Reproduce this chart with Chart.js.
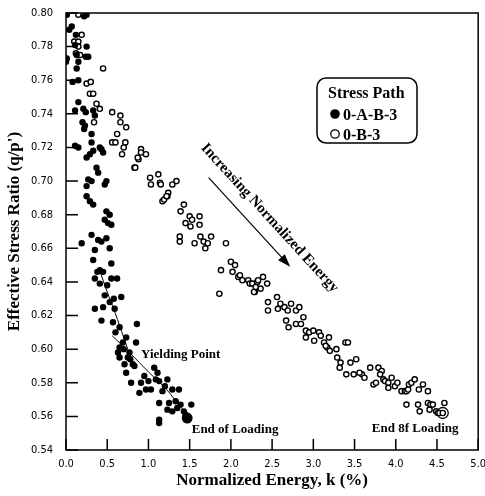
<!DOCTYPE html>
<html lang="en">
<head>
  <meta charset="UTF-8">
  <title>Effective Stress Ratio vs Normalized Energy</title>
  <script src="https://cdn.jsdelivr.net/npm/chart.js"></script>
  <style>
    body { margin: 0; background: #fff; }
    canvas { display: block; }
  </style>
</head>
<body>
  <canvas id="energyChart" width="485" height="496"></canvas>

  <script>
    // stress path 0-A-B-3 (filled dots)
    const kFilled = [
      0.01, 0.25, 0.22, 0.07, 0.04, 0.12, 0.11, 0.25, 0.01, 0.00, 0.13, 0.15, 0.27, 0.24, 0.13, 0.08, 0.15, 0.15, 0.11, 0.21,
      0.24, 0.33, 0.35, 0.20, 0.23, 0.22, 0.31, 0.11, 0.15, 0.31, 0.33, 0.41, 0.45, 0.43, 0.25, 0.29, 0.37, 0.39, 0.27, 0.31,
      0.25, 0.49, 0.47, 0.25, 0.29, 0.33, 0.49, 0.53, 0.47, 0.51, 0.55, 0.19, 0.31, 0.39, 0.43, 0.49, 0.53, 0.35, 0.33, 0.55,
      0.41, 0.45, 0.38, 0.35, 0.41, 0.55, 0.62, 0.47, 0.53, 0.67, 0.45, 0.59, 0.35, 0.43, 0.57, 0.86, 0.65, 0.73, 0.69, 0.85,
      0.65, 0.77, 0.75, 0.63, 0.65, 0.71, 0.81, 0.73, 1.07, 1.11, 0.79, 0.91, 0.97, 1.03, 1.09, 1.13, 1.23, 1.29, 1.37, 0.89,
      1.17, 1.13, 1.25, 1.33, 1.39, 1.43, 1.52, 1.46, 1.45, 1.23, 1.29, 1.13, 1.13, 0.60, 0.70, 0.78, 0.83, 0.95, 1.00, 1.20,
      1.35, 0.50, 0.58
    ];
    const ratioFilled = [
      0.799, 0.799, 0.798, 0.792, 0.790, 0.787, 0.781, 0.780, 0.773, 0.771, 0.775, 0.771, 0.774, 0.774, 0.767, 0.759, 0.760, 0.747, 0.742, 0.743,
      0.741, 0.742, 0.739, 0.735, 0.733, 0.731, 0.728, 0.721, 0.720, 0.723, 0.718, 0.720, 0.717, 0.719, 0.714, 0.716, 0.708, 0.705, 0.701, 0.700,
      0.697, 0.700, 0.698, 0.691, 0.688, 0.686, 0.682, 0.680, 0.677, 0.675, 0.674, 0.663, 0.668, 0.665, 0.664, 0.666, 0.660, 0.659, 0.653, 0.651,
      0.647, 0.646, 0.646, 0.642, 0.639, 0.642, 0.642, 0.632, 0.628, 0.631, 0.625, 0.624, 0.624, 0.617, 0.616, 0.615, 0.613, 0.607, 0.604, 0.604,
      0.601, 0.598, 0.595, 0.598, 0.595, 0.591, 0.591, 0.586, 0.589, 0.586, 0.580, 0.580, 0.576, 0.576, 0.582, 0.581, 0.582, 0.576, 0.576, 0.574,
      0.575, 0.568, 0.568, 0.569, 0.567, 0.563, 0.567, 0.560, 0.561, 0.564, 0.563, 0.558, 0.556, 0.610, 0.600, 0.594, 0.590, 0.584, 0.581, 0.578,
      0.565, 0.638, 0.630
    ];

    // stress path 0-B-3 (open circles)
    const kOpen = [
      0.15, 0.19, 0.10, 0.15, 0.15, 0.12, 0.17, 0.45, 0.25, 0.30, 0.29, 0.33, 0.37, 0.41, 0.34, 0.56, 0.66, 0.66, 0.73, 0.62,
      0.56, 0.60, 0.72, 0.70, 0.68, 0.91, 0.91, 0.97, 0.88, 0.83, 0.84, 0.87, 1.02, 1.03, 1.12, 1.14, 1.15, 1.29, 1.34, 1.24,
      1.23, 1.17, 1.43, 1.39, 1.50, 1.53, 1.62, 1.45, 1.51, 1.62, 1.19, 1.22, 1.38, 1.38, 1.56, 1.63, 1.67, 1.72, 1.76, 1.69,
      1.94, 1.88, 2.00, 2.05, 2.02, 1.86, 2.09, 2.11, 2.14, 2.21, 2.23, 2.26, 2.32, 2.39, 2.44, 2.29, 2.36, 2.28, 2.30, 2.33,
      2.56, 2.45, 2.45, 2.57, 2.60, 2.65, 2.69, 2.73, 2.79, 2.83, 2.67, 2.70, 2.79, 2.85, 2.88, 2.91, 2.95, 2.91, 3.00, 3.01,
      3.07, 3.09, 3.13, 3.17, 3.15, 3.19, 3.20, 3.28, 3.29, 3.33, 3.32, 3.39, 3.42, 3.40, 3.45, 3.52, 3.49, 3.59, 3.56, 3.62,
      3.69, 3.73, 3.76, 3.79, 3.83, 3.81, 3.85, 3.87, 3.91, 3.95, 3.91, 3.99, 4.02, 4.07, 4.11, 4.13, 4.15, 4.16, 4.19, 4.23,
      4.28, 4.33, 4.39, 4.13, 4.27, 4.29, 4.39, 4.42, 4.45, 4.41, 4.49, 4.51, 4.53, 4.59, 4.57
    ];
    const ratioOpen = [
      0.799, 0.787, 0.783, 0.783, 0.780, 0.776, 0.775, 0.767, 0.758, 0.759, 0.752, 0.752, 0.746, 0.743, 0.735, 0.741, 0.739, 0.735, 0.732, 0.728,
      0.723, 0.723, 0.723, 0.720, 0.716, 0.719, 0.717, 0.716, 0.713, 0.708, 0.708, 0.714, 0.702, 0.698, 0.704, 0.699, 0.698, 0.698, 0.700, 0.693,
      0.691, 0.688, 0.686, 0.682, 0.679, 0.677, 0.679, 0.675, 0.673, 0.674, 0.689, 0.691, 0.667, 0.664, 0.663, 0.667, 0.664, 0.663, 0.667, 0.660,
      0.663, 0.647, 0.652, 0.650, 0.646, 0.633, 0.643, 0.644, 0.641, 0.641, 0.639, 0.639, 0.640, 0.643, 0.639, 0.634, 0.636, 0.634, 0.637, 0.641,
      0.631, 0.628, 0.623, 0.624, 0.627, 0.625, 0.623, 0.627, 0.623, 0.625, 0.617, 0.613, 0.615, 0.615, 0.619, 0.611, 0.610, 0.607, 0.611, 0.605,
      0.610, 0.608, 0.604, 0.601, 0.602, 0.607, 0.599, 0.600, 0.595, 0.592, 0.589, 0.604, 0.604, 0.585, 0.592, 0.594, 0.585, 0.585, 0.586, 0.583,
      0.589, 0.579, 0.580, 0.589, 0.587, 0.585, 0.582, 0.581, 0.580, 0.583, 0.577, 0.578, 0.580, 0.575, 0.575, 0.575, 0.576, 0.579, 0.580, 0.582,
      0.576, 0.579, 0.575, 0.567, 0.567, 0.563, 0.568, 0.567, 0.567, 0.564, 0.563, 0.562, 0.562, 0.568, 0.562
    ];

    // fitted curves through the 0-A-B-3 data (they cross at the yielding point)
    const kFitUpper = [0.40, 0.50, 0.60, 0.70, 0.82];
    const ratioFitUpper = [0.648, 0.634, 0.621, 0.607, 0.590];
    const kFitLower = [0.56, 0.77, 1.01, 1.22, 1.40, 1.49];
    const ratioFitLower = [0.608, 0.598, 0.586, 0.576, 0.565, 0.561];

    // end of loading points
    const kEnd = [1.47, 4.57];
    const ratioEnd = [0.559, 0.562];

    // arrow "Increasing Normalized Energy" (start, end) in data units
    const arrowK = [1.73, 2.72];
    const arrowRatio = [0.702, 0.649];

    const xTicks = { min: 0, max: 5, step: 0.5 };
    const yTicks = { min: 0.54, max: 0.80, step: 0.02 };

    const pts = (xs, ys) => xs.map((v, i) => ({ x: v, y: ys[i] }));

    const serif = "'Liberation Serif', 'Times New Roman', serif";
    const narrow = "'DejaVu Sans Condensed', 'Liberation Sans Narrow', 'Arial Narrow', 'Liberation Sans', sans-serif";

    const decor = {
      id: 'decor',
      afterDraw(chart) {
        const { ctx, chartArea: a, scales: { x, y } } = chart;
        ctx.save();
        ctx.strokeStyle = '#000';
        ctx.fillStyle = '#000';

        // frame + inward ticks
        ctx.lineWidth = 1.5;
        ctx.strokeRect(a.left, a.top, a.right - a.left, a.bottom - a.top);
        ctx.beginPath();
        x.ticks.forEach(t => {
          const px = x.getPixelForValue(t.value);
          ctx.moveTo(px, a.bottom); ctx.lineTo(px, a.bottom - 11);
        });
        y.ticks.forEach(t => {
          const py = y.getPixelForValue(t.value);
          ctx.moveTo(a.left, py); ctx.lineTo(a.left + 12, py);
        });
        ctx.stroke();

        // axis titles
        ctx.font = 'bold 17px ' + serif;
        ctx.textAlign = 'center';
        ctx.textBaseline = 'alphabetic';
        ctx.fillText('Normalized Energy, k (%)', (a.left + a.right) / 2, 485);
        ctx.save();
        ctx.translate(19, (a.top + a.bottom) / 2);
        ctx.rotate(-Math.PI / 2);
        ctx.fillText("Effective Stress Ratio (q/p')", 0, 0);
        ctx.restore();

        // arrow
        const x0 = x.getPixelForValue(arrowK[0]), y0 = y.getPixelForValue(arrowRatio[0]);
        const x1 = x.getPixelForValue(arrowK[1]), y1 = y.getPixelForValue(arrowRatio[1]);
        const ang = Math.atan2(y1 - y0, x1 - x0);
        ctx.lineWidth = 1.2;
        ctx.beginPath();
        ctx.moveTo(x0, y0);
        ctx.lineTo(x1 - 10 * Math.cos(ang), y1 - 10 * Math.sin(ang));
        ctx.stroke();
        ctx.beginPath();
        ctx.moveTo(x1, y1);
        ctx.lineTo(x1 - 13 * Math.cos(ang) + 4.5 * Math.sin(ang), y1 - 13 * Math.sin(ang) - 4.5 * Math.cos(ang));
        ctx.lineTo(x1 - 13 * Math.cos(ang) - 4.5 * Math.sin(ang), y1 - 13 * Math.sin(ang) + 4.5 * Math.cos(ang));
        ctx.closePath();
        ctx.fill();

        // rotated label along the arrow
        ctx.save();
        ctx.translate(x.getPixelForValue(2.47), y.getPixelForValue(0.678));
        ctx.rotate(ang);
        ctx.font = 'bold 15px ' + serif;
        ctx.textAlign = 'center';
        ctx.textBaseline = 'middle';
        ctx.fillText('Increasing Normalized Energy', 0, 0);
        ctx.restore();

        // point labels
        ctx.font = 'bold 13px ' + serif;
        ctx.textAlign = 'left';
        ctx.textBaseline = 'alphabetic';
        ctx.fillText('Yielding Point', x.getPixelForValue(0.91), y.getPixelForValue(0.5947));
        ctx.fillText('End of Loading', x.getPixelForValue(1.525), y.getPixelForValue(0.5500));
        ctx.fillText('End 8f Loading', x.getPixelForValue(3.71), y.getPixelForValue(0.5507));

        // legend box
        ctx.lineWidth = 1.5;
        ctx.beginPath();
        ctx.roundRect(317, 78, 100, 65, 9);
        ctx.stroke();
        ctx.font = 'bold 16px ' + serif;
        ctx.fillText('Stress Path', 328, 98);
        ctx.font = 'bold 16px ' + serif;
        const ds = chart.data.datasets;
        ctx.beginPath();
        ctx.arc(335, 114, 4.8, 0, Math.PI * 2);
        ctx.fill();
        ctx.fillText(ds[0].label, 343, 120);
        ctx.beginPath();
        ctx.lineWidth = 1.3;
        ctx.arc(335, 134, 4.2, 0, Math.PI * 2);
        ctx.stroke();
        ctx.fillText(ds[1].label, 343, 140);

        ctx.restore();
      }
    };

    new Chart(document.getElementById('energyChart'), {
      type: 'scatter',
      data: {
        datasets: [
          {
            label: '0-A-B-3',
            data: pts(kFilled, ratioFilled),
            backgroundColor: '#000',
            borderColor: '#000',
            pointRadius: 3.2,
            borderWidth: 0
          },
          {
            label: '0-B-3',
            data: pts(kOpen, ratioOpen),
            backgroundColor: '#fff',
            borderColor: '#000',
            pointRadius: 2.6,
            borderWidth: 1.4
          },
          {
            label: 'fit upper',
            data: pts(kFitUpper, ratioFitUpper),
            showLine: true,
            borderColor: '#000',
            borderWidth: 1,
            pointRadius: 0,
            tension: 0.3
          },
          {
            label: 'fit lower',
            data: pts(kFitLower, ratioFitLower),
            showLine: true,
            borderColor: '#000',
            borderWidth: 1,
            pointRadius: 0,
            tension: 0.3
          },
          {
            label: 'end',
            data: pts(kEnd, ratioEnd),
            backgroundColor: ['#000', 'rgba(0,0,0,0)'],
            borderColor: '#000',
            pointRadius: [4.8, 5.5],
            borderWidth: 1.3
          }
        ]
      },
      options: {
        responsive: false,
        animation: false,
        layout: { padding: { top: 13, right: 3, left: 0, bottom: 0 } },
        plugins: {
          legend: { display: false },
          tooltip: { enabled: false }
        },
        scales: {
          x: {
            type: 'linear',
            min: xTicks.min,
            max: xTicks.max,
            grid: { display: false, drawTicks: false },
            border: { display: false },
            ticks: {
              stepSize: xTicks.step,
              padding: 8,
              color: '#000',
              font: { family: narrow, size: 11 },
              callback: v => v.toFixed(1)
            },
            afterFit: s => { s.height = 46; s.paddingLeft = 0; s.paddingRight = 0; }
          },
          y: {
            type: 'linear',
            min: yTicks.min,
            max: yTicks.max,
            grid: { display: false, drawTicks: false },
            border: { display: false },
            ticks: {
              stepSize: yTicks.step,
              padding: 13,
              color: '#000',
              font: { family: narrow, size: 11 },
              callback: v => v.toFixed(2)
            },
            afterFit: s => { s.width = 66; s.paddingTop = 0; s.paddingBottom = 0; }
          }
        }
      },
      plugins: [decor]
    });
  </script>
</body>
</html>
